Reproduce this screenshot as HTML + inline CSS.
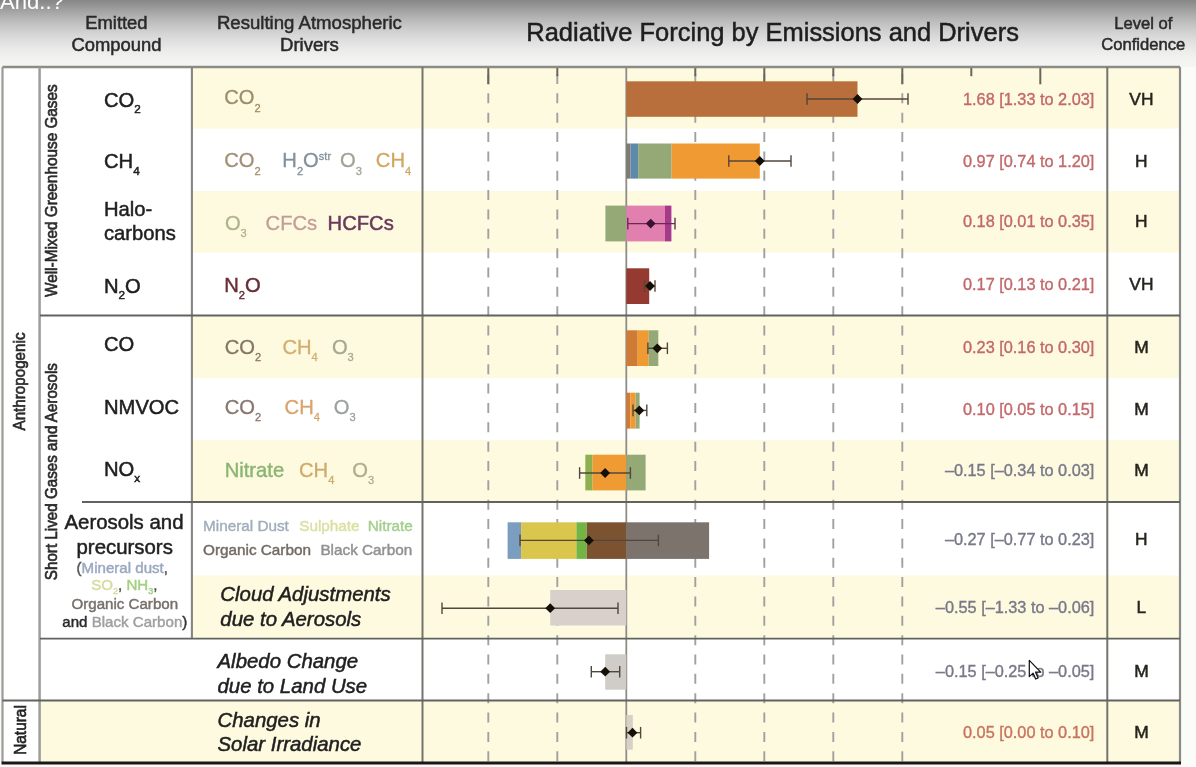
<!DOCTYPE html>
<html><head><meta charset="utf-8"><title>Radiative Forcing by Emissions and Drivers</title>
<style>
html,body{margin:0;padding:0;background:#fbfbfa;}
body{width:1196px;height:767px;overflow:hidden;position:relative;font-family:"Liberation Sans",sans-serif;}
#top{position:absolute;left:0;top:0;width:1196px;height:67px;
background:linear-gradient(to bottom,#868686 0px,#a0a0a0 10px,#b9b9b9 20px,#cecece 30px,#dedede 40px,#ebebea 50px,#f3f3f2 60px,#f5f5f4 67px);}
#panel{position:absolute;left:3px;top:67px;width:1177px;height:695px;background:#ffffff;}
svg{position:absolute;left:0;top:0;font-family:"Liberation Sans",sans-serif;filter:blur(0.65px);}
</style></head>
<body>
<div id="top"></div>
<div id="panel"></div>
<svg width="1196" height="767" viewBox="0 0 1196 767">
<rect x="192" y="67" width="988" height="61.5" fill="#fefadf"/>
<rect x="192" y="191" width="988" height="61.5" fill="#fefadf"/>
<rect x="192" y="315" width="988" height="63" fill="#fefadf"/>
<rect x="192" y="440" width="988" height="61.5" fill="#fefadf"/>
<rect x="192" y="575.5" width="988" height="63.10000000000002" fill="#fefadf"/>
<rect x="40" y="700.5" width="1140" height="61.5" fill="#fefadf"/>
<line x1="488.3" y1="74" x2="488.3" y2="762" stroke="#a0a0a0" stroke-width="1.9" stroke-dasharray="10 9.35"/>
<line x1="557.3" y1="74" x2="557.3" y2="762" stroke="#a0a0a0" stroke-width="1.9" stroke-dasharray="10 9.35"/>
<line x1="695.3" y1="74" x2="695.3" y2="762" stroke="#a0a0a0" stroke-width="1.9" stroke-dasharray="10 9.35"/>
<line x1="764.3" y1="74" x2="764.3" y2="762" stroke="#a0a0a0" stroke-width="1.9" stroke-dasharray="10 9.35"/>
<line x1="833.3" y1="74" x2="833.3" y2="762" stroke="#a0a0a0" stroke-width="1.9" stroke-dasharray="10 9.35"/>
<line x1="902.3" y1="74" x2="902.3" y2="762" stroke="#a0a0a0" stroke-width="1.9" stroke-dasharray="10 9.35"/>
<line x1="488.3" y1="67" x2="488.3" y2="84.3" stroke="#66665e" stroke-width="2"/>
<line x1="557.3" y1="67" x2="557.3" y2="76.2" stroke="#66665e" stroke-width="2"/>
<line x1="695.3" y1="67" x2="695.3" y2="76.2" stroke="#66665e" stroke-width="2"/>
<line x1="764.3" y1="67" x2="764.3" y2="84.3" stroke="#66665e" stroke-width="2"/>
<line x1="833.3" y1="67" x2="833.3" y2="76.2" stroke="#66665e" stroke-width="2"/>
<line x1="902.3" y1="67" x2="902.3" y2="84.3" stroke="#66665e" stroke-width="2"/>
<line x1="971.3" y1="67" x2="971.3" y2="76.2" stroke="#66665e" stroke-width="2"/>
<line x1="1040.3" y1="67" x2="1040.3" y2="84.3" stroke="#66665e" stroke-width="2"/>
<line x1="626.3" y1="67" x2="626.3" y2="762" stroke="#8e8c86" stroke-width="1.8"/>
<rect x="626.3" y="81.3" width="231.2" height="35.5" fill="#b86f3b"/>
<g stroke="#54463a" stroke-width="1.4" fill="none"><line x1="807.0" y1="99.0" x2="908.0" y2="99.0"/><line x1="807.0" y1="93.2" x2="807.0" y2="104.8"/><line x1="908.0" y1="93.2" x2="908.0" y2="104.8"/></g>
<path d="M852.6 99.0 L857.5 94.1 L862.4 99.0 L857.5 103.9 Z" fill="#141008"/>
<rect x="626.3" y="143.5" width="4.2" height="35.1" fill="#7f7a72"/>
<rect x="630.5" y="143.5" width="7.7" height="35.1" fill="#5d89ab"/>
<rect x="638.2" y="143.5" width="33.4" height="35.1" fill="#94a976"/>
<rect x="671.6" y="143.5" width="88.2" height="35.1" fill="#f09a34"/>
<g stroke="#54463a" stroke-width="1.4" fill="none"><line x1="728.8" y1="161.0" x2="791.0" y2="161.0"/><line x1="728.8" y1="155.2" x2="728.8" y2="166.8"/><line x1="791.0" y1="155.2" x2="791.0" y2="166.8"/></g>
<path d="M754.9 161.0 L759.8 156.1 L764.7 161.0 L759.8 165.9 Z" fill="#141008"/>
<rect x="605.4" y="205.6" width="20.9" height="35.8" fill="#94a976"/>
<rect x="626.3" y="205.6" width="38.7" height="35.8" fill="#e180ae"/>
<rect x="665.0" y="205.6" width="6.4" height="35.8" fill="#a53a8c"/>
<g stroke="#6a2a55" stroke-width="1.4" fill="none"><line x1="627.8" y1="223.6" x2="675.0" y2="223.6"/><line x1="627.8" y1="217.8" x2="627.8" y2="229.4"/><line x1="675.0" y1="217.8" x2="675.0" y2="229.4"/></g>
<path d="M645.8 223.6 L650.7 218.7 L655.6 223.6 L650.7 228.5 Z" fill="#3a1234"/>
<rect x="626.3" y="268.3" width="22.9" height="35.7" fill="#943a31"/>
<g stroke="#54463a" stroke-width="1.4" fill="none"><line x1="644.5" y1="286.0" x2="655.0" y2="286.0"/><line x1="644.5" y1="280.2" x2="644.5" y2="291.8"/><line x1="655.0" y1="280.2" x2="655.0" y2="291.8"/></g>
<path d="M645.1 286.0 L650.0 281.1 L654.9 286.0 L650.0 290.9 Z" fill="#141008"/>
<rect x="626.3" y="330.3" width="11.4" height="35.7" fill="#cf7a35"/>
<rect x="637.7" y="330.3" width="11.0" height="35.7" fill="#f09a34"/>
<rect x="648.7" y="330.3" width="9.6" height="35.7" fill="#94a976"/>
<g stroke="#54463a" stroke-width="1.4" fill="none"><line x1="647.9" y1="348.3" x2="667.4" y2="348.3"/><line x1="647.9" y1="342.5" x2="647.9" y2="354.1"/><line x1="667.4" y1="342.5" x2="667.4" y2="354.1"/></g>
<path d="M652.4 348.3 L657.3 343.4 L662.2 348.3 L657.3 353.2 Z" fill="#141008"/>
<rect x="626.3" y="392.7" width="4.1" height="35.9" fill="#cf7a35"/>
<rect x="630.4" y="392.7" width="5.2" height="35.9" fill="#f09a34"/>
<rect x="635.6" y="392.7" width="4.0" height="35.9" fill="#94a976"/>
<g stroke="#54463a" stroke-width="1.4" fill="none"><line x1="633.0" y1="410.4" x2="646.8" y2="410.4"/><line x1="633.0" y1="404.6" x2="633.0" y2="416.2"/><line x1="646.8" y1="404.6" x2="646.8" y2="416.2"/></g>
<path d="M634.4 410.4 L639.3 405.5 L644.2 410.4 L639.3 415.3 Z" fill="#141008"/>
<rect x="585.3" y="454.7" width="7.3" height="35.7" fill="#8fb050"/>
<rect x="592.6" y="454.7" width="33.7" height="35.7" fill="#f09a34"/>
<rect x="626.3" y="454.7" width="19.3" height="35.7" fill="#94a976"/>
<g stroke="#54463a" stroke-width="1.4" fill="none"><line x1="579.6" y1="473.0" x2="630.4" y2="473.0"/><line x1="579.6" y1="467.2" x2="579.6" y2="478.8"/><line x1="630.4" y1="467.2" x2="630.4" y2="478.8"/></g>
<path d="M600.2 473.0 L605.1 468.1 L610.0 473.0 L605.1 477.9 Z" fill="#141008"/>
<rect x="507.6" y="522.3" width="13.5" height="36.6" fill="#7a9dc0"/>
<rect x="521.1" y="522.3" width="55.3" height="36.6" fill="#dac64c"/>
<rect x="576.4" y="522.3" width="10.3" height="36.6" fill="#73b545"/>
<rect x="586.7" y="522.3" width="39.6" height="36.6" fill="#7b5331"/>
<rect x="626.3" y="522.3" width="82.8" height="36.6" fill="#7c736c"/>
<g stroke="#54463a" stroke-width="1.4" fill="none"><line x1="520.0" y1="540.4" x2="658.4" y2="540.4"/><line x1="520.0" y1="534.6" x2="520.0" y2="546.2"/><line x1="658.4" y1="534.6" x2="658.4" y2="546.2"/></g>
<path d="M584.0 540.4 L588.9 535.5 L593.8 540.4 L588.9 545.3 Z" fill="#141008"/>
<rect x="550.2" y="590.0" width="76.1" height="35.5" fill="#d8d0ca"/>
<g stroke="#54463a" stroke-width="1.4" fill="none"><line x1="442.0" y1="608.2" x2="618.0" y2="608.2"/><line x1="442.0" y1="602.4" x2="442.0" y2="614.0"/><line x1="618.0" y1="602.4" x2="618.0" y2="614.0"/></g>
<path d="M545.3 608.2 L550.2 603.3 L555.1 608.2 L550.2 613.1 Z" fill="#141008"/>
<rect x="605.2" y="654.3" width="21.1" height="35.4" fill="#d0ccc7"/>
<g stroke="#54463a" stroke-width="1.4" fill="none"><line x1="591.3" y1="671.7" x2="619.7" y2="671.7"/><line x1="591.3" y1="665.9" x2="591.3" y2="677.5"/><line x1="619.7" y1="665.9" x2="619.7" y2="677.5"/></g>
<path d="M600.3 671.7 L605.2 666.8 L610.1 671.7 L605.2 676.6 Z" fill="#141008"/>
<rect x="626.3" y="715.0" width="6.5" height="34.7" fill="#d6d0c6"/>
<g stroke="#54463a" stroke-width="1.4" fill="none"><line x1="626.5" y1="732.7" x2="640.6" y2="732.7"/><line x1="626.5" y1="726.9" x2="626.5" y2="738.5"/><line x1="640.6" y1="726.9" x2="640.6" y2="738.5"/></g>
<path d="M627.6 732.7 L632.5 727.8 L637.4 732.7 L632.5 737.6 Z" fill="#141008"/>
<line x1="2.5" y1="67" x2="1180" y2="67" stroke="#8c8c86" stroke-width="2.3"/>
<line x1="2.5" y1="67" x2="2.5" y2="762" stroke="#9a9a96" stroke-width="2.2"/>
<line x1="1180" y1="67" x2="1180" y2="762" stroke="#8a8a86" stroke-width="2.2"/>
<line x1="39.6" y1="67" x2="39.6" y2="762" stroke="#9c9c99" stroke-width="2.5"/>
<line x1="191.9" y1="67" x2="191.9" y2="638.6" stroke="#858581" stroke-width="2.1"/>
<line x1="422.5" y1="67" x2="422.5" y2="762" stroke="#74746f" stroke-width="2"/>
<line x1="1107.3" y1="67" x2="1107.3" y2="762" stroke="#74746f" stroke-width="2"/>
<line x1="40" y1="315.5" x2="1180" y2="315.5" stroke="#62625e" stroke-width="1.9"/>
<line x1="82" y1="502" x2="1180" y2="502" stroke="#62625e" stroke-width="1.9"/>
<line x1="40" y1="638.6" x2="1180" y2="638.6" stroke="#62625e" stroke-width="1.9"/>
<line x1="2.5" y1="700.5" x2="1180" y2="700.5" stroke="#62625e" stroke-width="1.9"/>
<line x1="1.5" y1="763" x2="1181" y2="763" stroke="#1a1816" stroke-width="3.2"/>
<text x="0" y="9" font-size="22.1" fill="#ffffff">And..?</text>
<text x="116.4" y="28.6" font-size="18.4" fill="#2a2a2a" stroke="#2a2a2a" stroke-width="0.5" text-anchor="middle">Emitted</text>
<text x="116.4" y="50.8" font-size="18.4" fill="#2a2a2a" stroke="#2a2a2a" stroke-width="0.5" text-anchor="middle">Compound</text>
<text x="309.4" y="28.6" font-size="18.6" fill="#2a2a2a" stroke="#2a2a2a" stroke-width="0.5" text-anchor="middle">Resulting Atmospheric</text>
<text x="309.4" y="50.8" font-size="18.6" fill="#2a2a2a" stroke="#2a2a2a" stroke-width="0.5" text-anchor="middle">Drivers</text>
<text x="526.3" y="41.4" font-size="25.47" fill="#1e1e1e" stroke="#1e1e1e" stroke-width="0.5">Radiative Forcing by Emissions and Drivers</text>
<text x="1143.3" y="29.3" font-size="16.6" fill="#2a2a2a" stroke="#2a2a2a" stroke-width="0.5" text-anchor="middle">Level of</text>
<text x="1143.3" y="50.3" font-size="16.6" fill="#2a2a2a" stroke="#2a2a2a" stroke-width="0.5" text-anchor="middle">Confidence</text>
<text transform="translate(25 430.5) rotate(-90) scale(1 1.07)" font-size="15.2" fill="#2a2a2a" stroke="#2a2a2a" stroke-width="0.6">Anthropogenic</text>
<text transform="translate(25.6 754.8) rotate(-90) scale(1 1.07)" font-size="15.4" fill="#222" stroke="#222" stroke-width="0.6">Natural</text>
<text transform="translate(57.4 297.0) rotate(-90) scale(1 1.07)" font-size="15.35" fill="#2a2a2a" stroke="#2a2a2a" stroke-width="0.6">Well-Mixed Greenhouse Gases</text>
<text transform="translate(57.4 580.2) rotate(-90) scale(1 1.07)" font-size="15.2" fill="#2a2a2a" stroke="#2a2a2a" stroke-width="0.6">Short Lived Gases and Aerosols</text>
<text x="104.0" y="106.8" font-size="20.2" fill="#1f1f1f" stroke="#1f1f1f" stroke-width="0.5">CO<tspan font-size="11.7" dy="6.3">2</tspan><tspan dy="-6.3" font-size="20.2">&#8203;</tspan></text>
<text x="104.0" y="168.2" font-size="20.2" fill="#1f1f1f" stroke="#1f1f1f" stroke-width="0.5">CH<tspan font-size="11.7" dy="6.3">4</tspan><tspan dy="-6.3" font-size="20.2">&#8203;</tspan></text>
<text x="104" y="215.7" font-size="20.2" fill="#1f1f1f" stroke="#1f1f1f" stroke-width="0.5">Halo-</text>
<text x="104" y="239.9" font-size="20.2" fill="#1f1f1f" stroke="#1f1f1f" stroke-width="0.5">carbons</text>
<text x="104.0" y="292.6" font-size="20.2" fill="#1f1f1f" stroke="#1f1f1f" stroke-width="0.5">N<tspan font-size="11.7" dy="6.3">2</tspan><tspan dy="-6.3" font-size="20.2">&#8203;</tspan>O</text>
<text x="104.0" y="351.4" font-size="20.2" fill="#1f1f1f" stroke="#1f1f1f" stroke-width="0.5">CO</text>
<text x="104.0" y="413.5" font-size="20.2" fill="#1f1f1f" stroke="#1f1f1f" stroke-width="0.5">NMVOC</text>
<text x="104.0" y="475.9" font-size="20.2" fill="#1f1f1f" stroke="#1f1f1f" stroke-width="0.5">NO<tspan font-size="11.7" dy="6.3">x</tspan><tspan dy="-6.3" font-size="20.2">&#8203;</tspan></text>
<text x="124" y="528.7" font-size="20.4" fill="#1f1f1f" stroke="#1f1f1f" stroke-width="0.5" text-anchor="middle">Aerosols and</text>
<text x="124.7" y="554" font-size="20.4" fill="#1f1f1f" stroke="#1f1f1f" stroke-width="0.5" text-anchor="middle">precursors</text>
<text x="122.3" y="572.9" font-size="15.1" text-anchor="middle" stroke-width="0.45"><tspan fill="#555" stroke="#555">(</tspan><tspan fill="#9aa8c0" stroke="#9aa8c0">Mineral dust</tspan><tspan fill="#555" stroke="#555">,</tspan></text>
<text x="124.3" y="590.2" font-size="15.1" text-anchor="middle" stroke-width="0.45"><tspan fill="#d6dca0" stroke="#d6dca0">SO<tspan font-size="9" dy="3.4">2</tspan></tspan><tspan fill="#555" stroke="#555" dy="-3.4">,</tspan><tspan fill="#a4cf82" stroke="#a4cf82"> NH<tspan font-size="9" dy="3.4">3</tspan></tspan><tspan fill="#555" stroke="#555" dy="-3.4">,</tspan></text>
<text x="124.8" y="608.7" font-size="15.1" text-anchor="middle" stroke-width="0.45"><tspan fill="#77706a" stroke="#77706a">Organic Carbon</tspan></text>
<text x="124.8" y="627.3" font-size="15.1" text-anchor="middle" stroke-width="0.45"><tspan fill="#2a2a2a" stroke="#2a2a2a">and </tspan><tspan fill="#a0a0a0" stroke="#a0a0a0">Black Carbon</tspan><tspan fill="#333" stroke="#333">)</tspan></text>
<text x="224.2" y="104.4" font-size="20.2" fill="#9e8e68" stroke="#9e8e68" stroke-width="0.3">CO<tspan font-size="11.1" dy="7.3">2</tspan><tspan dy="-7.3" font-size="20.2">&#8203;</tspan></text>
<text x="224.2" y="167.4" font-size="20.2" fill="#a38e76" stroke="#a38e76" stroke-width="0.3">CO<tspan font-size="11.1" dy="7.3">2</tspan><tspan dy="-7.3" font-size="20.2">&#8203;</tspan></text>
<text x="282.3" y="167.4" font-size="20.2" fill="#82919b" stroke="#82919b" stroke-width="0.3">H<tspan font-size="11.1" dy="7.3">2</tspan><tspan dy="-7.3" font-size="20.2">&#8203;</tspan>O<tspan font-size="11.1" dy="-7.3">str</tspan><tspan dy="7.3" font-size="20.2">&#8203;</tspan></text>
<text x="340" y="167.4" font-size="20.2" fill="#a0a492" stroke="#a0a492" stroke-width="0.3">O<tspan font-size="11.1" dy="7.3">3</tspan><tspan dy="-7.3" font-size="20.2">&#8203;</tspan></text>
<text x="375.8" y="167.4" font-size="20.2" fill="#d0a762" stroke="#d0a762" stroke-width="0.3">CH<tspan font-size="11.1" dy="7.3">4</tspan><tspan dy="-7.3" font-size="20.2">&#8203;</tspan></text>
<text x="224.9" y="230.0" font-size="20.2" fill="#aeb48c" stroke="#aeb48c" stroke-width="0.3">O<tspan font-size="11.1" dy="7.3">3</tspan><tspan dy="-7.3" font-size="20.2">&#8203;</tspan></text>
<text x="265.6" y="230.0" font-size="20.2" fill="#c39d98" stroke="#c39d98" stroke-width="0.3">CFCs</text>
<text x="327.6" y="230.0" font-size="20.2" fill="#683a5c" stroke="#683a5c" stroke-width="0.5">HCFCs</text>
<text x="224.2" y="291.9" font-size="20.2" fill="#692e39" stroke="#692e39" stroke-width="0.45">N<tspan font-size="11.1" dy="7.3">2</tspan><tspan dy="-7.3" font-size="20.2">&#8203;</tspan>O</text>
<text x="224.7" y="353.6" font-size="20.2" fill="#877762" stroke="#877762" stroke-width="0.3">CO<tspan font-size="11.1" dy="7.3">2</tspan><tspan dy="-7.3" font-size="20.2">&#8203;</tspan></text>
<text x="282.4" y="353.6" font-size="20.2" fill="#d3ae70" stroke="#d3ae70" stroke-width="0.3">CH<tspan font-size="11.1" dy="7.3">4</tspan><tspan dy="-7.3" font-size="20.2">&#8203;</tspan></text>
<text x="331.9" y="353.6" font-size="20.2" fill="#a4a98f" stroke="#a4a98f" stroke-width="0.3">O<tspan font-size="11.1" dy="7.3">3</tspan><tspan dy="-7.3" font-size="20.2">&#8203;</tspan></text>
<text x="224.7" y="413.5" font-size="20.2" fill="#87786e" stroke="#87786e" stroke-width="0.3">CO<tspan font-size="11.1" dy="7.3">2</tspan><tspan dy="-7.3" font-size="20.2">&#8203;</tspan></text>
<text x="284.6" y="413.5" font-size="20.2" fill="#d8a46c" stroke="#d8a46c" stroke-width="0.3">CH<tspan font-size="11.1" dy="7.3">4</tspan><tspan dy="-7.3" font-size="20.2">&#8203;</tspan></text>
<text x="333.7" y="413.5" font-size="20.2" fill="#9ba0a0" stroke="#9ba0a0" stroke-width="0.3">O<tspan font-size="11.1" dy="7.3">3</tspan><tspan dy="-7.3" font-size="20.2">&#8203;</tspan></text>
<text x="224.7" y="476.9" font-size="20.2" fill="#8bb572" stroke="#8bb572" stroke-width="0.4">Nitrate</text>
<text x="299" y="476.9" font-size="20.2" fill="#ceaa6c" stroke="#ceaa6c" stroke-width="0.3">CH<tspan font-size="11.1" dy="7.3">4</tspan><tspan dy="-7.3" font-size="20.2">&#8203;</tspan></text>
<text x="352.2" y="476.9" font-size="20.2" fill="#aeae8f" stroke="#aeae8f" stroke-width="0.3">O<tspan font-size="11.1" dy="7.3">3</tspan><tspan dy="-7.3" font-size="20.2">&#8203;</tspan></text>
<text x="203" y="531.4" font-size="15.3" fill="#a1adbc" stroke="#a1adbc" stroke-width="0.4">Mineral Dust</text>
<text x="299.2" y="531.4" font-size="15.3" fill="#dbe0a2" stroke="#dbe0a2" stroke-width="0.4">Sulphate</text>
<text x="367.7" y="531.4" font-size="15.3" fill="#a2cf8b" stroke="#a2cf8b" stroke-width="0.4">Nitrate</text>
<text x="203" y="554.8" font-size="15.3" fill="#736b63" stroke="#736b63" stroke-width="0.45">Organic Carbon</text>
<text x="320.4" y="554.8" font-size="15.3" fill="#939090" stroke="#939090" stroke-width="0.45">Black Carbon</text>
<text x="220.3" y="600.6" font-size="20.4" fill="#1f1f1f" stroke="#1f1f1f" stroke-width="0.5" font-style="italic">Cloud Adjustments</text>
<text x="220.3" y="625.6" font-size="20.4" fill="#1f1f1f" stroke="#1f1f1f" stroke-width="0.5" font-style="italic">due to Aerosols</text>
<text x="217.5" y="668.2" font-size="20.4" fill="#1f1f1f" stroke="#1f1f1f" stroke-width="0.5" font-style="italic">Albedo Change</text>
<text x="217.5" y="692.6" font-size="20.4" fill="#1f1f1f" stroke="#1f1f1f" stroke-width="0.5" font-style="italic">due to Land Use</text>
<text x="217.5" y="727.1" font-size="20.4" fill="#1f1f1f" stroke="#1f1f1f" stroke-width="0.5" font-style="italic">Changes in</text>
<text x="217.5" y="751.3" font-size="20.4" fill="#1f1f1f" stroke="#1f1f1f" stroke-width="0.5" font-style="italic">Solar Irradiance</text>
<text x="1094.3" y="104.5" font-size="16.3" fill="#c3696b" stroke="#c3696b" stroke-width="0.38" text-anchor="end">1.68 [1.33 to 2.03]</text>
<text x="1141.4" y="104.5" font-size="17.4" fill="#26241e" stroke="#26241e" stroke-width="0.5" text-anchor="middle">VH</text>
<text x="1094.3" y="166.9" font-size="16.3" fill="#c3696b" stroke="#c3696b" stroke-width="0.38" text-anchor="end">0.97 [0.74 to 1.20]</text>
<text x="1141.4" y="166.9" font-size="17.4" fill="#26241e" stroke="#26241e" stroke-width="0.5" text-anchor="middle">H</text>
<text x="1094.3" y="226.70000000000002" font-size="16.3" fill="#c3696b" stroke="#c3696b" stroke-width="0.38" text-anchor="end">0.18 [0.01 to 0.35]</text>
<text x="1141.4" y="226.70000000000002" font-size="17.4" fill="#26241e" stroke="#26241e" stroke-width="0.5" text-anchor="middle">H</text>
<text x="1094.3" y="290.3" font-size="16.3" fill="#c3696b" stroke="#c3696b" stroke-width="0.38" text-anchor="end">0.17 [0.13 to 0.21]</text>
<text x="1141.4" y="290.3" font-size="17.4" fill="#26241e" stroke="#26241e" stroke-width="0.5" text-anchor="middle">VH</text>
<text x="1094.3" y="352.8" font-size="16.3" fill="#c3696b" stroke="#c3696b" stroke-width="0.38" text-anchor="end">0.23 [0.16 to 0.30]</text>
<text x="1141.4" y="352.8" font-size="17.4" fill="#26241e" stroke="#26241e" stroke-width="0.5" text-anchor="middle">M</text>
<text x="1094.3" y="414.7" font-size="16.3" fill="#c3696b" stroke="#c3696b" stroke-width="0.38" text-anchor="end">0.10 [0.05 to 0.15]</text>
<text x="1141.4" y="414.7" font-size="17.4" fill="#26241e" stroke="#26241e" stroke-width="0.5" text-anchor="middle">M</text>
<text x="1094.3" y="475.90000000000003" font-size="16.3" fill="#787989" stroke="#787989" stroke-width="0.38" text-anchor="end">–0.15 [–0.34 to 0.03]</text>
<text x="1141.4" y="475.90000000000003" font-size="17.4" fill="#26241e" stroke="#26241e" stroke-width="0.5" text-anchor="middle">M</text>
<text x="1094.3" y="545.0" font-size="16.3" fill="#787989" stroke="#787989" stroke-width="0.38" text-anchor="end">–0.27 [–0.77 to 0.23]</text>
<text x="1141.4" y="545.0" font-size="17.4" fill="#26241e" stroke="#26241e" stroke-width="0.5" text-anchor="middle">H</text>
<text x="1094.3" y="612.9" font-size="16.3" fill="#787989" stroke="#787989" stroke-width="0.38" text-anchor="end">–0.55 [–1.33 to –0.06]</text>
<text x="1141.4" y="612.9" font-size="17.4" fill="#26241e" stroke="#26241e" stroke-width="0.5" text-anchor="middle">L</text>
<text x="1094.3" y="676.9" font-size="16.3" fill="#787989" stroke="#787989" stroke-width="0.38" text-anchor="end">–0.15 [–0.25 to –0.05]</text>
<text x="1141.4" y="676.9" font-size="17.4" fill="#26241e" stroke="#26241e" stroke-width="0.5" text-anchor="middle">M</text>
<text x="1094.3" y="737.8" font-size="16.3" fill="#c8745f" stroke="#c8745f" stroke-width="0.38" text-anchor="end">0.05 [0.00 to 0.10]</text>
<text x="1141.4" y="737.8" font-size="17.4" fill="#26241e" stroke="#26241e" stroke-width="0.5" text-anchor="middle">M</text>
<g transform="translate(1029.3 660.4) scale(1.12)"><path d="M0 0 L0 14.5 L3.4 11.4 L5.7 16.6 L7.9 15.6 L5.6 10.5 L10.2 10.5 Z" fill="#fff" stroke="#111" stroke-width="1.1" stroke-linejoin="round"/></g>
</svg>
</body></html>
